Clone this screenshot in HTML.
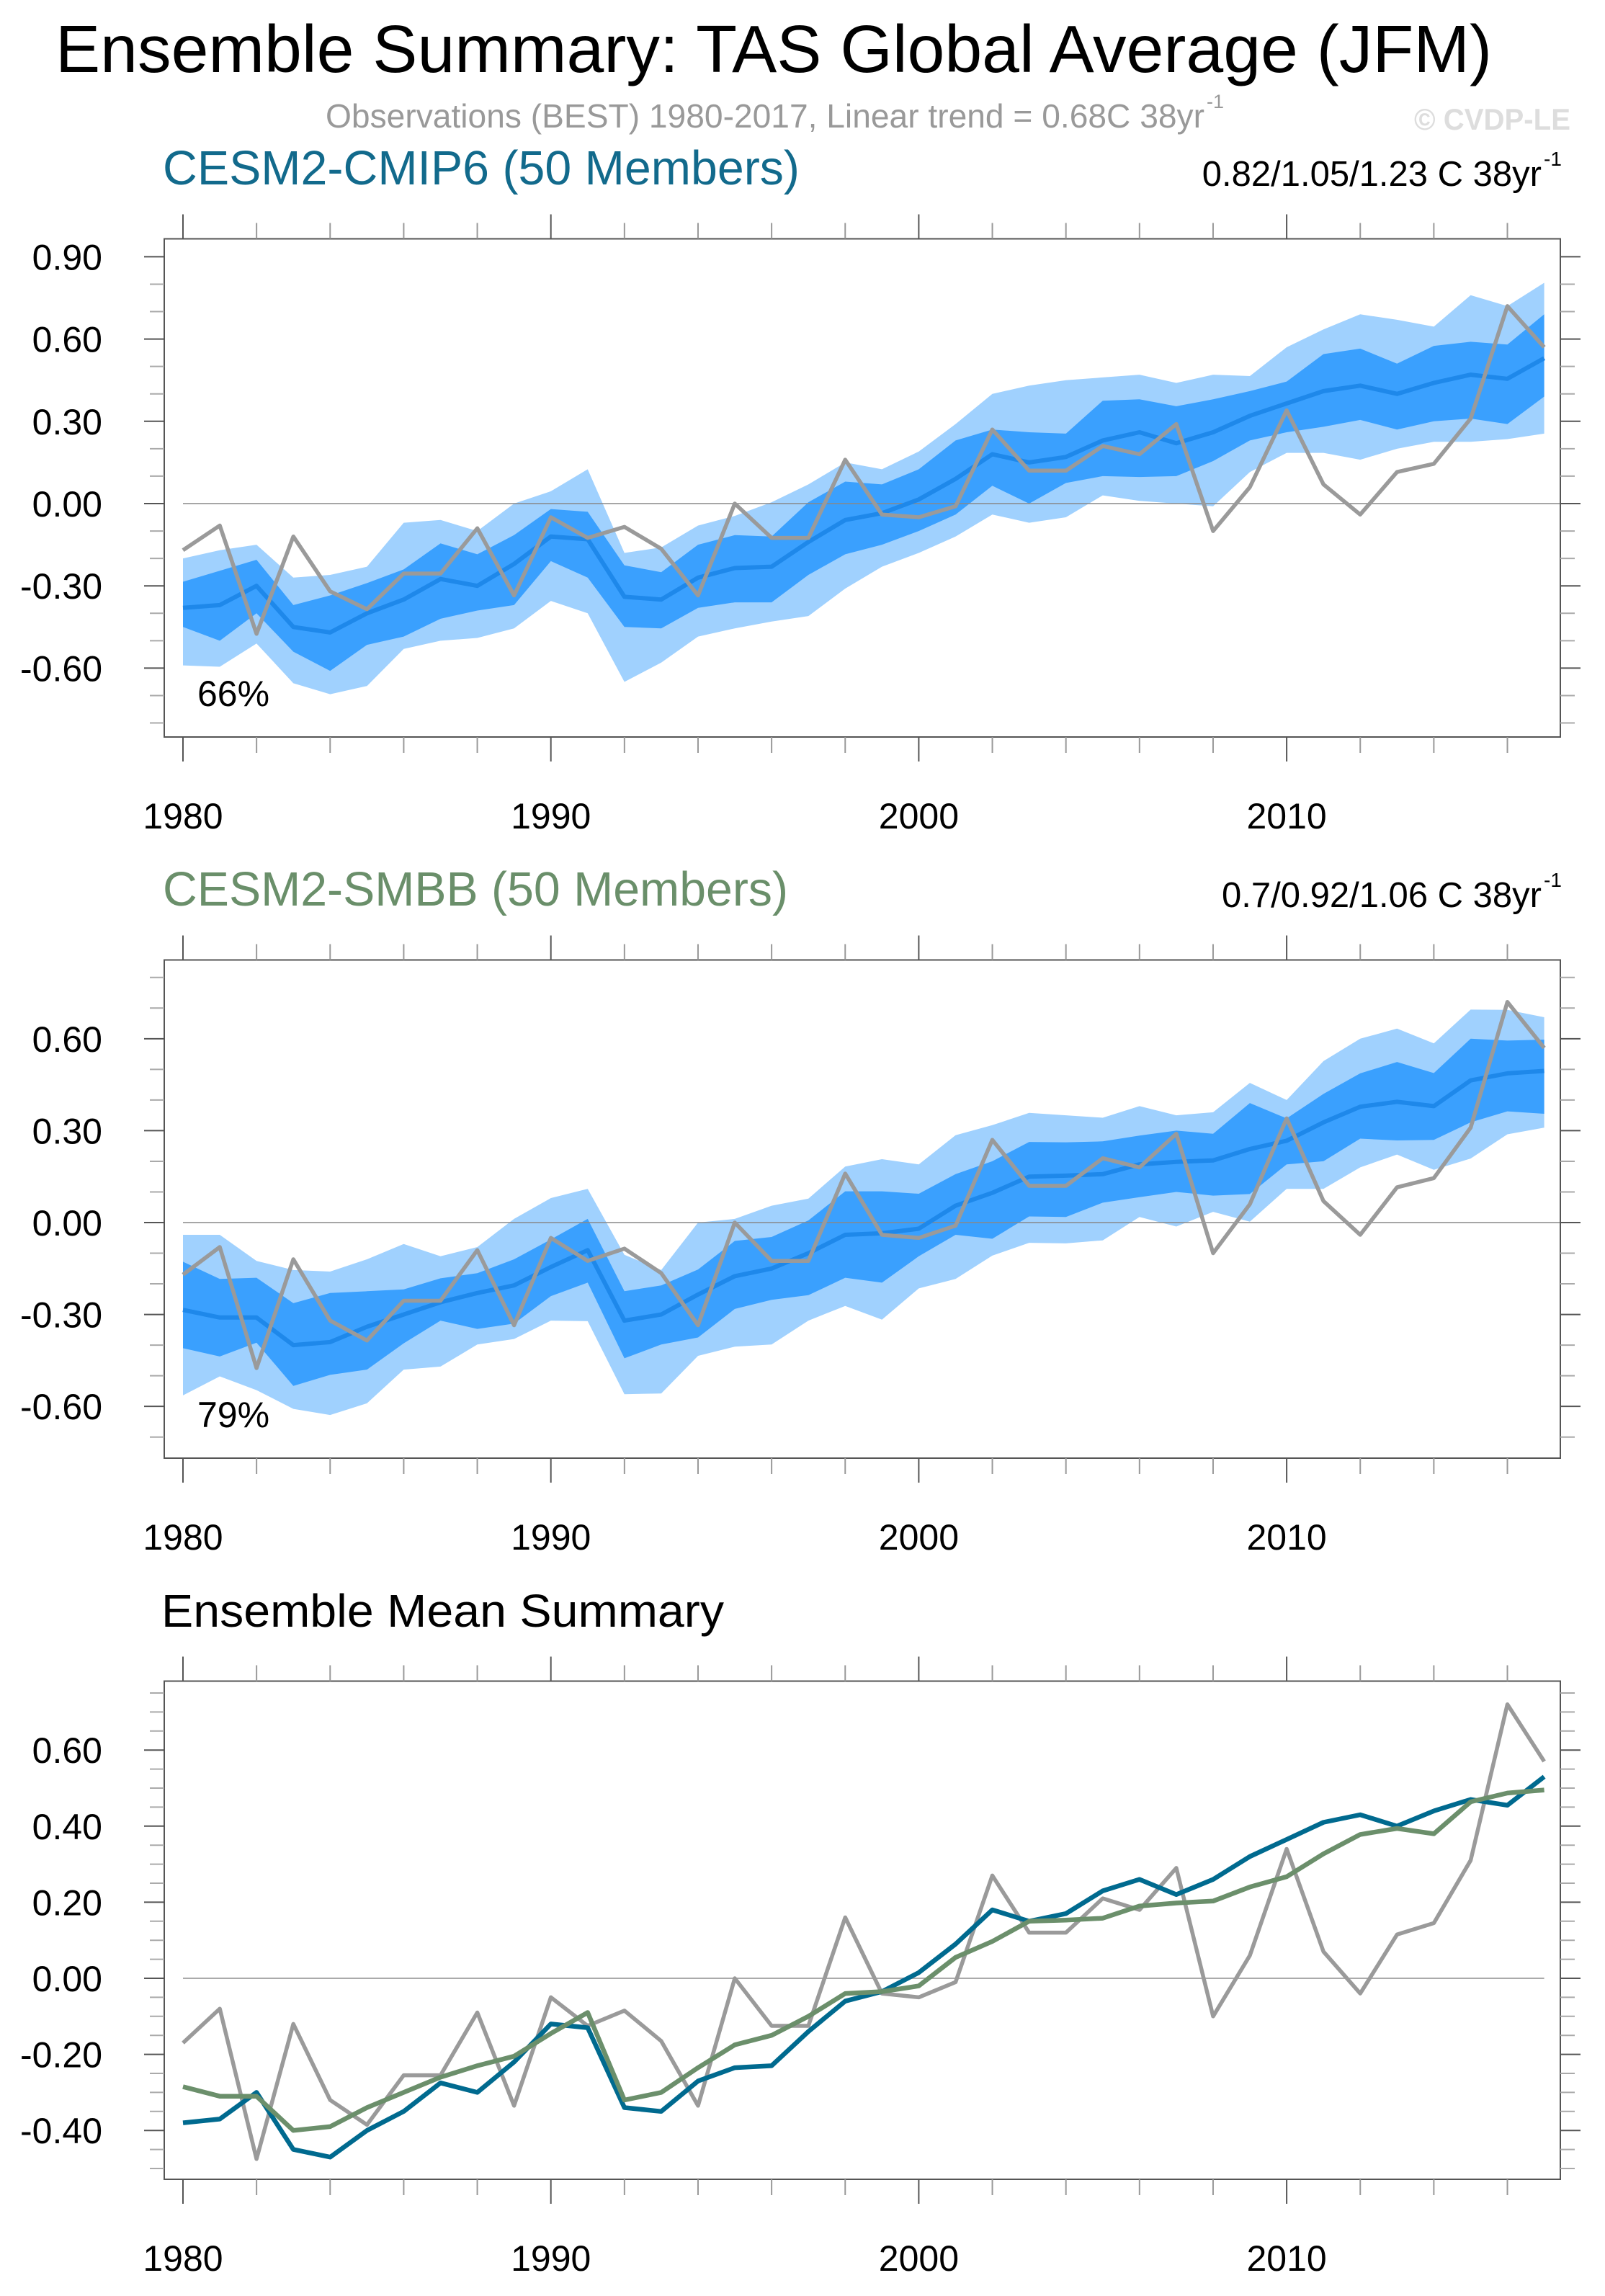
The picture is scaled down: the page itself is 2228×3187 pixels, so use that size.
<!DOCTYPE html>
<html><head><meta charset="utf-8"><title>Ensemble Summary TAS</title>
<style>html,body{margin:0;padding:0;background:#fff}svg{display:block;font-family:"Liberation Sans",Arial,sans-serif}</style>
</head><body>
<svg id="chart" xmlns="http://www.w3.org/2000/svg" width="2228" height="3187" viewBox="0 0 2228 3187">
<rect width="2228" height="3187" fill="#fff"/>
<text x="77" y="100" font-size="93" textLength="1994" lengthAdjust="spacingAndGlyphs">Ensemble Summary: TAS Global Average (JFM)</text>
<text x="452" y="177" font-size="46" fill="#999" textLength="1220" lengthAdjust="spacingAndGlyphs">Observations (BEST) 1980-2017, Linear trend = 0.68C 38yr</text>
<text x="1675" y="150" font-size="27" fill="#999">-1</text>
<text x="1963" y="180" font-size="42" font-weight="bold" fill="#ddd" textLength="217" lengthAdjust="spacingAndGlyphs">© CVDP-LE</text>
<g id="plots"></g>
</svg>
<script>
const years = [];
for (let y = 1980; y <= 2017; y++) years.push(y);
const obs = [-0.17,-0.08,-0.475,-0.12,-0.32,-0.385,-0.255,-0.255,-0.09,-0.335,-0.05,-0.125,-0.085,-0.165,-0.335,0.0,-0.125,-0.125,0.16,-0.04,-0.05,-0.01,0.27,0.12,0.12,0.21,0.18,0.29,-0.10,0.06,0.34,0.07,-0.04,0.115,0.145,0.31,0.72,0.57];
const cmip6Mean = [-0.38,-0.37,-0.30,-0.45,-0.47,-0.40,-0.35,-0.275,-0.30,-0.22,-0.12,-0.13,-0.34,-0.35,-0.27,-0.235,-0.23,-0.14,-0.06,-0.035,0.015,0.09,0.18,0.15,0.17,0.23,0.26,0.22,0.26,0.32,0.365,0.41,0.43,0.40,0.44,0.47,0.455,0.53];
const cmip6OuterHi = [-0.20,-0.17,-0.15,-0.27,-0.26,-0.23,-0.07,-0.06,-0.10,0.0,0.045,0.125,-0.18,-0.16,-0.08,-0.045,0.005,0.07,0.15,0.125,0.19,0.29,0.40,0.43,0.45,0.46,0.47,0.44,0.47,0.465,0.57,0.635,0.69,0.67,0.645,0.76,0.72,0.805];
const cmip6InnerHi = [-0.285,-0.245,-0.205,-0.37,-0.335,-0.29,-0.24,-0.145,-0.185,-0.115,-0.02,-0.03,-0.225,-0.25,-0.15,-0.115,-0.12,0.005,0.08,0.07,0.125,0.23,0.27,0.26,0.255,0.375,0.38,0.355,0.38,0.41,0.445,0.545,0.565,0.51,0.575,0.59,0.58,0.69];
const cmip6InnerLo = [-0.45,-0.50,-0.40,-0.54,-0.61,-0.515,-0.485,-0.42,-0.39,-0.37,-0.21,-0.27,-0.45,-0.455,-0.38,-0.36,-0.36,-0.26,-0.185,-0.15,-0.10,-0.04,0.065,0.0,0.075,0.10,0.097,0.10,0.155,0.23,0.26,0.28,0.305,0.27,0.30,0.31,0.29,0.39];
const cmip6OuterLo = [-0.59,-0.595,-0.51,-0.655,-0.695,-0.665,-0.53,-0.50,-0.49,-0.455,-0.355,-0.40,-0.65,-0.58,-0.485,-0.455,-0.43,-0.41,-0.31,-0.23,-0.18,-0.12,-0.04,-0.07,-0.05,0.03,0.01,0.0,-0.01,0.115,0.185,0.185,0.16,0.20,0.225,0.225,0.235,0.255];
const smbbMean = [-0.285,-0.31,-0.31,-0.40,-0.39,-0.34,-0.30,-0.26,-0.23,-0.205,-0.145,-0.09,-0.32,-0.30,-0.235,-0.175,-0.15,-0.10,-0.04,-0.035,-0.02,0.055,0.097,0.15,0.153,0.158,0.19,0.198,0.203,0.24,0.267,0.327,0.378,0.394,0.38,0.464,0.487,0.495];
const smbbOuterHi = [-0.04,-0.04,-0.125,-0.155,-0.16,-0.12,-0.07,-0.11,-0.08,0.012,0.08,0.11,-0.105,-0.155,0.0,0.012,0.055,0.078,0.183,0.207,0.19,0.285,0.318,0.358,0.35,0.342,0.38,0.35,0.36,0.456,0.40,0.527,0.60,0.633,0.585,0.695,0.694,0.67];
const smbbInnerHi = [-0.128,-0.184,-0.18,-0.263,-0.23,-0.224,-0.218,-0.182,-0.165,-0.12,-0.055,0.012,-0.224,-0.205,-0.153,-0.06,-0.047,0.007,0.102,0.102,0.094,0.158,0.20,0.263,0.262,0.265,0.284,0.30,0.29,0.39,0.34,0.42,0.487,0.524,0.488,0.60,0.594,0.597];
const smbbInnerLo = [-0.41,-0.437,-0.392,-0.533,-0.497,-0.48,-0.394,-0.32,-0.347,-0.33,-0.24,-0.196,-0.443,-0.398,-0.375,-0.282,-0.252,-0.237,-0.18,-0.196,-0.11,-0.04,-0.053,0.02,0.018,0.065,0.083,0.10,0.088,0.093,0.19,0.20,0.274,0.268,0.27,0.327,0.363,0.355];
const smbbOuterLo = [-0.564,-0.502,-0.547,-0.608,-0.628,-0.59,-0.48,-0.47,-0.398,-0.38,-0.32,-0.322,-0.56,-0.558,-0.435,-0.405,-0.398,-0.32,-0.272,-0.317,-0.215,-0.184,-0.108,-0.066,-0.068,-0.058,0.018,-0.013,0.035,0.003,0.11,0.11,0.18,0.222,0.172,0.209,0.288,0.31];
const xTickYears = [1980,1990,2000,2010];
const p1TickLabels = ["0.90","0.60","0.30","0.00","-0.30","-0.60"];
const p2TickLabels = ["0.60","0.30","0.00","-0.30","-0.60"];
const p3TickLabels = ["0.60","0.40","0.20","0.00","-0.20","-0.40"];

const NS = "http://www.w3.org/2000/svg";
const root = document.getElementById("plots");
const FL = 228, FR = 2166;
function xs(yr) { return 254 + (yr - 1980) * 51.07; }
function mk(tag, attrs, parent) {
  const e = document.createElementNS(NS, tag);
  for (const k in attrs) e.setAttribute(k, attrs[k]);
  (parent || root).appendChild(e);
  return e;
}
function linePath(vals, ys) {
  return vals.map((v, i) => (i ? "L" : "M") + xs(years[i]).toFixed(1) + "," + ys(v).toFixed(1)).join("");
}
function bandPath(hi, lo, ys) {
  let d = hi.map((v, i) => (i ? "L" : "M") + xs(years[i]).toFixed(1) + "," + ys(v).toFixed(1)).join("");
  for (let i = lo.length - 1; i >= 0; i--) d += "L" + xs(years[i]).toFixed(1) + "," + ys(lo[i]).toFixed(1);
  return d + "Z";
}
function axes(g, top, bot, ys, vmin, vmax, minorStep, majorVals, labels) {
  for (let yr = 1980; yr <= 2018; yr += 2) {
    const major = yr % 10 === 0;
    const x = xs(yr);
    if (x > FR) continue;
    const len = major ? 34 : 22;
    const t1 = mk("line", {x1: x, x2: x, y1: top - len, y2: top, stroke: major ? "#555" : "#999", "stroke-width": 2}, g);
    
    
    const t2 = mk("line", {x1: x, x2: x, y1: bot, y2: bot + len, stroke: major ? "#555" : "#999", "stroke-width": 2}, g);
    
    
  }
  xTickYears.forEach(yr => {
    const t = mk("text", {x: xs(yr), y: bot + 127, "font-size": 50, "text-anchor": "middle"}, g);
    t.textContent = String(yr);
    
    
  });
  const n = Math.round((vmax - vmin) / minorStep);
  for (let i = 0; i <= n; i++) {
    const v = vmin + i * minorStep;
    const major = majorVals.some(m => Math.abs(m - v) < 1e-6);
    const y = ys(v);
    const len = major ? 28 : 20;
    const a = mk("line", {x1: FL - len, x2: FL, y1: y, y2: y, stroke: major ? "#555" : "#aaa", "stroke-width": 2}, g);
    
    
    const b = mk("line", {x1: FR, x2: FR + len, y1: y, y2: y, stroke: major ? "#555" : "#aaa", "stroke-width": 2}, g);
    
    
  }
  labels.forEach(lab => {
    const t = mk("text", {x: 142, y: ys(parseFloat(lab)) + 18, "font-size": 50, "text-anchor": "end"}, g);
    t.textContent = lab;
    
    
  });
}
function frame(g, top, bot) {
  const r = mk("rect", {x: FL, y: top, width: FR - FL, height: bot - top, fill: "none", stroke: "#555", "stroke-width": 2}, g);
  
  
}
function titleRow(g, off, text, color, right, w) {
  const t = mk("text", {x: 226, y: 256 + off, "font-size": 67, fill: color, textLength: w, lengthAdjust: "spacingAndGlyphs"}, g);
  t.textContent = text;
  
  
  if (right) {
    const r = mk("text", {x: 2140, y: 258 + off, "font-size": 49, "text-anchor": "end"}, g);
    r.textContent = right;
    
    
    const s = mk("text", {x: 2143, y: 230 + off, "font-size": 28}, g);
    s.textContent = "-1";
    
    
  }
}
function bandPanel(name, off, zero, ppu, vmin, vmax, majors, labels, oh, ih, il, ol, mean, title, color, right, tw, pct) {
  const g = mk("g", {});
  
  
  const top = 331.5 + off, bot = 1023 + off;
  const ys = v => zero - v * ppu;
  titleRow(g, off, title, color, right, tw);
  const b1 = mk("path", {d: bandPath(oh, ol, ys), fill: "#a0d1fe"}, g);
  
  
  const b2 = mk("path", {d: bandPath(ih, il, ys), fill: "#3aa0fe"}, g);
  
  
  const z = mk("line", {x1: xs(1980), x2: FR, y1: ys(0), y2: ys(0), stroke: "#888", "stroke-width": 1.5}, g);
  
  
  const m = mk("path", {d: linePath(mean, ys), fill: "none", stroke: "#1e88ea", "stroke-width": 6, "stroke-linejoin": "round"}, g);
  
  
  const o = mk("path", {d: linePath(obs, ys), fill: "none", stroke: "#9a9a9a", "stroke-width": 5.5, "stroke-linejoin": "round"}, g);
  
  
  frame(g, top, bot);
  axes(g, top, bot, ys, vmin, vmax, 0.1, majors, labels);
  const p = mk("text", {x: 274, y: 980 + off, "font-size": 50}, g);
  p.textContent = pct;
  
  
}
bandPanel("cesm2-cmip6-panel", 0, 699, 380.7, -0.8, 0.9, [-0.6,-0.3,0,0.3,0.6,0.9], p1TickLabels,
  cmip6OuterHi, cmip6InnerHi, cmip6InnerLo, cmip6OuterLo, cmip6Mean,
  "CESM2-CMIP6 (50 Members)", "#126a8c", "0.82/1.05/1.23 C 38yr", 884, "66%");
bandPanel("cesm2-smbb-panel", 1001, 1697, 425.3, -0.7, 0.8, [-0.6,-0.3,0,0.3,0.6], p2TickLabels,
  smbbOuterHi, smbbInnerHi, smbbInnerLo, smbbOuterLo, smbbMean,
  "CESM2-SMBB (50 Members)", "#6a8f6a", "0.7/0.92/1.06 C 38yr", 868, "79%");

(function(){
  const off = 2002;
  const g = mk("g", {});
  
  
  const top = 331.5 + off, bot = 1023 + off;
  const ys = v => 2746 - v * 528;
  const t = mk("text", {x: 224, y: 2258, "font-size": 64, textLength: 781, lengthAdjust: "spacingAndGlyphs"}, g);
  t.textContent = "Ensemble Mean Summary";
  
  
  const z = mk("line", {x1: xs(1980), x2: xs(2017), y1: ys(0), y2: ys(0), stroke: "#aaa", "stroke-width": 2}, g);
  
  
  const o = mk("path", {d: linePath(obs, ys), fill: "none", stroke: "#9a9a9a", "stroke-width": 5.5, "stroke-linejoin": "round"}, g);
  
  
  const a = mk("path", {d: linePath(cmip6Mean, ys), fill: "none", stroke: "#006a8f", "stroke-width": 6.5, "stroke-linejoin": "round"}, g);
  
  
  const b = mk("path", {d: linePath(smbbMean, ys), fill: "none", stroke: "#6b8f6b", "stroke-width": 6.5, "stroke-linejoin": "round"}, g);
  
  
  frame(g, top, bot);
  axes(g, top, bot, ys, -0.5, 0.75, 0.05, [-0.4,-0.2,0,0.2,0.4,0.6], p3TickLabels);
})();
</script>
</body></html>
